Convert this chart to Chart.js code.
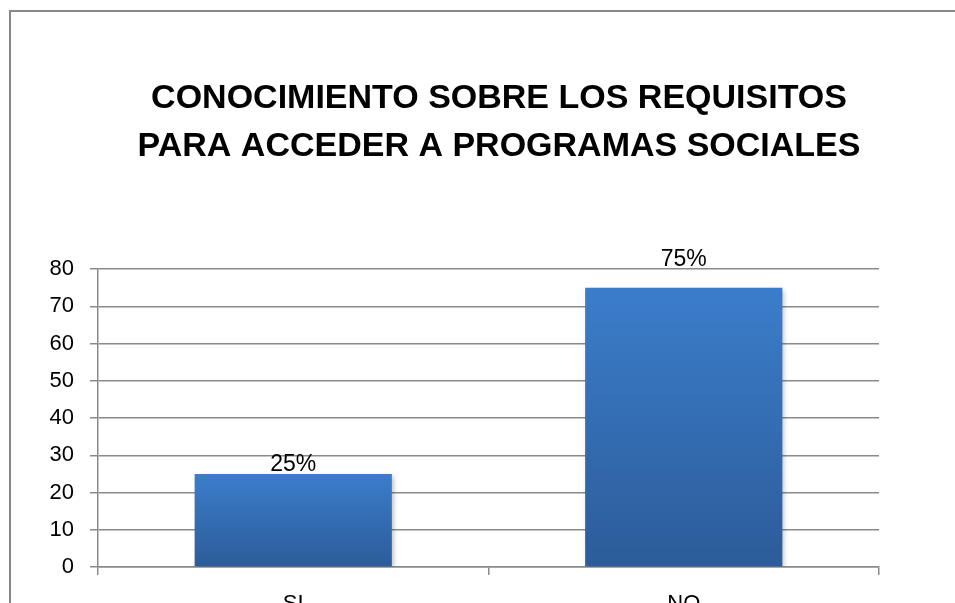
<!DOCTYPE html>
<html>
<head>
<meta charset="utf-8">
<script src="https://cdn.jsdelivr.net/npm/chart.js"></script>
<style>
  html, body { margin:0; padding:0; background:#fff; overflow:hidden; }
  #wrap { position:relative; width:955px; height:603px; overflow:hidden; }
  #frame { position:absolute; left:9px; top:10px; width:1000px; height:700px;
           border-left:2px solid #888; border-top:2px solid #888; }
  #c { position:absolute; left:0; top:0; }
</style>
</head>
<body>
<div id="wrap">
  <div id="frame"></div>
  <canvas id="c" width="955" height="640"></canvas>
</div>
<script>
// ===== Datos =====
const TITLE_LINES = ['CONOCIMIENTO SOBRE LOS REQUISITOS', 'PARA ACCEDER A PROGRAMAS SOCIALES'];
const CATEGORIAS = ['SI', 'NO'];
const VALORES = [25, 75];
const ETIQUETAS = ['25%', '75%'];
const Y_MIN = 0, Y_MAX = 80, Y_STEP = 10;

const FONT = '"Liberation Sans", Arial, sans-serif';
const GRID = '#8a8a8a';

// gradiente por barra (claro arriba, oscuro abajo)
function barGradient(ctx){
  const chart = ctx.chart;
  const y = chart.scales && chart.scales.y;
  if (!chart.chartArea || !y || ctx.raw == null) return '#3776c2';
  const top = y.getPixelForValue(ctx.raw);
  const base = y.getPixelForValue(0);
  const g = chart.ctx.createLinearGradient(0, top, 0, base);
  g.addColorStop(0, '#3b7dcb');
  g.addColorStop(1, '#2c5c99');
  return g;
}

// titulo centrado como en el original
const titlePlugin = {
  id: 'tituloExcel',
  afterDraw(chart){
    const c = chart.ctx;
    c.save();
    c.fillStyle = '#000';
    c.font = 'bold 34px ' + FONT;
    c.textAlign = 'center';
    c.textBaseline = 'alphabetic';
    TITLE_LINES.forEach((t, i) => c.fillText(t, 499, 108 + i * 48));
    c.restore();
  }
};

// sombra suave de las barras
const shadowPlugin = {
  id: 'sombra',
  beforeDatasetDraw(chart){
    const c = chart.ctx;
    c.save();
    c.shadowColor = 'rgba(0,0,0,0.28)';
    c.shadowBlur = 5;
    c.shadowOffsetX = 2;
    c.shadowOffsetY = 2;
  },
  afterDatasetDraw(chart){ chart.ctx.restore(); }
};

// etiquetas de datos (Excel las deja un poco desiguales)
const LABEL_LIFT = [1, 19];
const labelPlugin = {
  id: 'etiquetas',
  afterDatasetsDraw(chart){
    const c = chart.ctx;
    const meta = chart.getDatasetMeta(0);
    c.save();
    c.fillStyle = '#000';
    c.font = '23px ' + FONT;
    c.textAlign = 'center';
    c.textBaseline = 'bottom';
    meta.data.forEach((bar, i) => {
      c.fillText(ETIQUETAS[i], bar.x, bar.y - LABEL_LIFT[i] + 3);
    });
    c.restore();
  }
};

new Chart(document.getElementById('c'), {
  type: 'bar',
  data: {
    labels: CATEGORIAS,
    datasets: [{
      data: VALORES,
      backgroundColor: barGradient,
      borderWidth: 0,
      categoryPercentage: 1,
      barPercentage: 0.505
    }]
  },
  options: {
    responsive: false,
    animation: false,
    events: [],
    layout: { padding: { left: 10, right: 76, top: 269, bottom: 0 } },
    plugins: { legend: { display: false }, title: { display: false }, tooltip: { enabled: false } },
    scales: {
      x: {
        afterFit: (s) => { s.height = 73; },
        grid: { display: true, offset: true, drawOnChartArea: false, drawTicks: true,
                tickLength: 8, color: GRID, lineWidth: 1.5 },
        border: { display: true, color: GRID, width: 1.5 },
        ticks: { color: '#000', font: { family: FONT, size: 22 }, padding: 16 }
      },
      y: {
        min: Y_MIN, max: Y_MAX,
        afterFit: (s) => { s.width = 88; },
        grid: { color: GRID, lineWidth: 1.5, drawTicks: true, tickLength: 8 },
        border: { display: true, color: GRID, width: 1.5 },
        ticks: { stepSize: Y_STEP, color: '#000', font: { family: FONT, size: 22 }, padding: 16 }
      }
    }
  },
  plugins: [shadowPlugin, labelPlugin, titlePlugin]
});
</script>
</body>
</html>
